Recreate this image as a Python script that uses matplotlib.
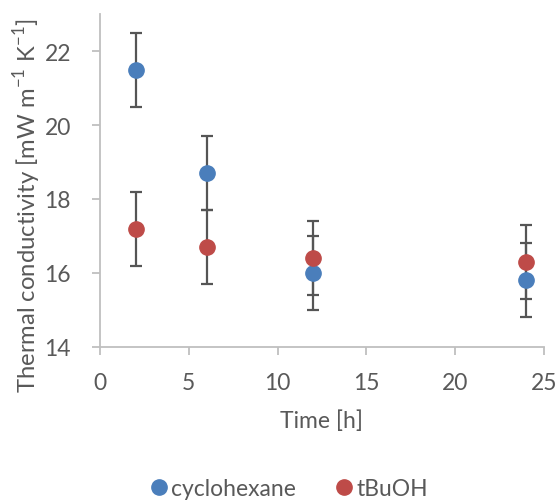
import numpy as np
import matplotlib.pyplot as plt

# data
time_h = [2, 6, 12, 24]
cyclohexane = [21.5, 18.7, 16.0, 15.8]
cyclohexane_err = [1.0, 1.0, 1.0, 1.0]
tbuoh = [17.2, 16.7, 16.4, 16.3]
tbuoh_err = [1.0, 1.0, 1.0, 1.0]

plt.rcParams['font.family'] = ['Lato', 'DejaVu Sans']
plt.rcParams['mathtext.fontset'] = 'custom'
plt.rcParams['mathtext.rm'] = 'Lato'
text_col = '#595959'
axis_col = '#BFBFBF'
fs = 16.5

fig = plt.figure(figsize=(5.59, 5.02), dpi=100)
ax = fig.add_axes([0.179, 0.307, 0.794, 0.663])

ax.errorbar(time_h, cyclohexane, yerr=cyclohexane_err, fmt='o', color='#4A7EBB',
            ms=11, ecolor='#555555', elinewidth=1.6, capsize=4.5, capthick=1.6,
            label='cyclohexane', zorder=3)
ax.errorbar(time_h, tbuoh, yerr=tbuoh_err, fmt='o', color='#BE4B48',
            ms=11, ecolor='#555555', elinewidth=1.6, capsize=4.5, capthick=1.6,
            label='tBuOH', zorder=3)

ax.set_xlim(0, 25)
ax.set_ylim(14, 23)
ax.set_xticks(np.arange(0, 26, 5))
ax.set_yticks(np.arange(14, 23, 2))

for s in ['top', 'right']:
    ax.spines[s].set_visible(False)
for s in ['left', 'bottom']:
    ax.spines[s].set_color(axis_col)
    ax.spines[s].set_linewidth(1.3)
ax.tick_params(colors=axis_col, length=6, width=1.3, direction='out',
               labelcolor=text_col, labelsize=fs)
ax.tick_params(axis='x', pad=12)
ax.tick_params(axis='y', pad=15)

ax.set_xlabel('Time [h]', color=text_col, fontsize=fs, labelpad=12)
ax.set_ylabel('Thermal conductivity [mW m$^{\\mathrm{-1}}$ K$^{\\mathrm{-1}}$]',
              color=text_col, fontsize=17.2)
ax.yaxis.set_label_coords(-0.128, 0.426)

h, l = ax.get_legend_handles_labels()
handles = [plt.Line2D([], [], ls='', marker='o', ms=11, color=c)
           for c in ['#4A7EBB', '#BE4B48']]
fig.legend(handles, l, loc='center', bbox_to_anchor=(0.515, 0.025), ncol=2,
           frameon=False, fontsize=fs, labelcolor=text_col,
           handletextpad=0.05, columnspacing=1.6, handlelength=1.0)

fig.savefig('out.png', dpi=100)
